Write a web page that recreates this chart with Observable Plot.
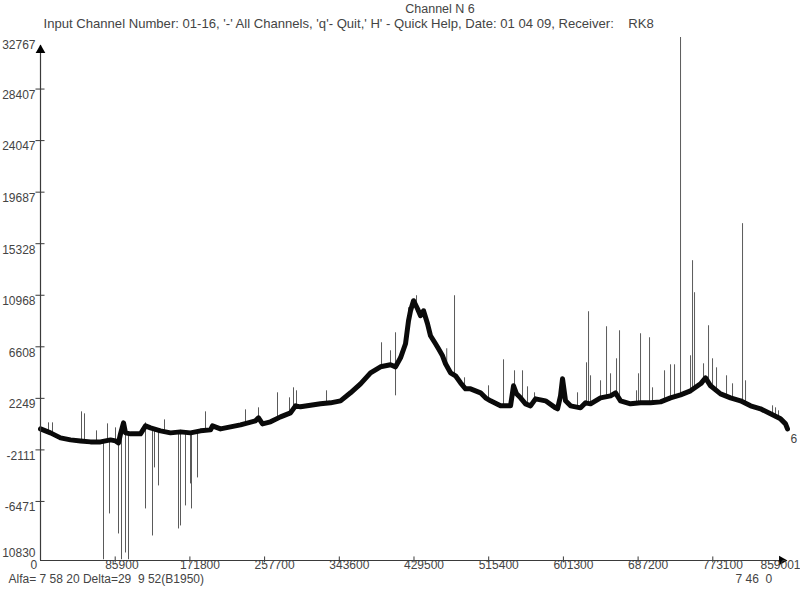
<!DOCTYPE html>
<html>
<head>
<meta charset="utf-8">
<script src="https://cdn.jsdelivr.net/npm/d3@7"></script>
<script src="https://cdn.jsdelivr.net/npm/@observablehq/plot@0.6"></script>
<style>
  html, body { margin: 0; padding: 0; background: #fff; }
  #chart svg text { white-space: pre; }
</style>
</head>
<body>
<div id="chart"></div>
<script>
// ---- Texts ----
const titleText = "Channel N 6";
const subtitleText = "Input Channel Number: 01-16, '-' All Channels, 'q'- Quit,' H' - Quick Help, Date: 01 04 09, Receiver:    RK8";
const footLeftText = "Alfa= 7 58 20 Delta=29  9 52(B1950)";
const footRightText = "7 46  0";
const channelLabel = "6";

// ---- Axis ticks ----
const xTickValues = [0, 85900, 171800, 257700, 343600, 429500, 515400, 601300, 687200, 773100, 859001];
const xTickLabels = ["0", "85900", "171800", "257700", "343600", "429500", "515400", "601300", "687200", "773100", "859001"];
const yTickValues = [32767, 28407, 24047, 19687, 15328, 10968, 6608, 2249, -2111, -6471, -10830];
const yTickLabels = ["32767", "28407", "24047", "19687", "15328", "10968", "6608", "2249", "-2111", "-6471", "10830"];

// ---- Main trace (sample index, counts) ----
const traceX = [0, 11500, 23000, 34500, 46000, 57500, 69000, 80500, 86250, 89700, 92000, 95450, 97750, 103500, 115000, 120750, 126500, 138000, 149500, 161000, 172500, 184000, 195500, 197800, 207000, 230000, 247250, 250700, 255300, 264500, 276000, 287500, 293250, 299000, 322000, 333500, 345000, 356500, 368000, 379500, 391000, 402500, 408250, 414000, 419750, 423200, 425500, 428950, 433550, 437000, 440450, 445050, 448500, 454250, 457700, 462300, 465750, 471500, 477250, 483000, 488750, 494500, 500250, 506000, 511750, 517500, 529000, 540500, 543950, 547400, 552000, 557750, 563500, 569250, 580750, 592250, 594550, 598000, 600300, 603750, 609500, 621000, 626750, 632500, 644000, 655500, 661250, 667000, 678500, 690000, 701500, 713000, 724500, 736000, 747500, 759000, 764750, 770500, 782000, 793500, 805000, 816500, 828000, 839500, 851000, 856750, 859001];
const traceY = [-333, -671, -1094, -1264, -1349, -1433, -1433, -1264, -1349, -1518, -755, 176, -671, -755, -755, -78, -248, -501, -671, -586, -671, -501, -418, -78, -333, 7, 346, 599, 91, 261, 683, 1022, 1615, 1530, 1784, 1869, 2039, 2716, 3477, 4409, 4916, 5086, 4916, 5678, 6864, 8811, 9657, 10504, 9826, 9234, 9657, 8557, 7541, 6864, 6441, 5848, 5170, 4409, 4155, 3562, 3054, 3054, 2885, 2716, 2292, 2039, 1615, 1615, 3308, 2631, 2292, 1784, 1615, 2208, 2039, 1446, 1361, 2462, 3900, 2039, 1615, 1446, 1869, 1784, 2292, 2462, 2716, 2039, 1784, 1869, 1869, 1950, 2292, 2547, 2885, 3477, 3985, 3308, 2631, 2292, 2039, 1615, 1361, 937, 514, 91, -333];

// ---- Spikes (impulse interference): position, base value, tip value ----
const spikeX = [9200, 13800, 47150, 50600, 64400, 77050, 86250, 120750, 142600, 189750, 235750, 250700, 272550, 286350, 290950, 294400, 328900, 392150, 402500, 408250, 423200, 432400, 467150, 476100, 487600, 515200, 532450, 545100, 554300, 560050, 568100, 599150, 617550, 627900, 630200, 632500, 644000, 650900, 655500, 662400, 665850, 685400, 687700, 690000, 700350, 703800, 717600, 724500, 729100, 736000, 747500, 749800, 752100, 762450, 768200, 772800, 777400, 788900, 795800, 807300, 810750, 841800, 845250, 848700,
  72450, 79350, 89700, 93150, 97750, 101200, 120750, 128800, 131100, 135700, 158700, 161000, 166750, 172500, 173650, 180550];
const spikeBase = [-586, -671, -1349, -1349, -1433, -1349, -1349, -333, -586, -501, 7, 346, 599, 1022, 1192, 1530, 1784, 4916, 5086, 2462, 8811, 10081, 5001, 4240, 3139, 2208, 1615, 2885, 2208, 1784, 2039, 2462, 1530, 1869, 1869, 1784, 2292, 2377, 2462, 2631, 2462, 1784, 1869, 1869, 1869, 1869, 2039, 2292, 2377, 2547, 2885, 2970, 2970, 3393, 3562, 3308, 2970, 2547, 2377, 2039, 1869, 852, 768, 599,
  -1433, -1349, -1518, -755, -671, -755, -78, -248, -248, -333, -586, -586, -671, -671, -671, -586];
const spikeTip = [176, 176, 1107, 937, -501, 91, -248, 176, 429, 1107, 1276, 1446, 2716, 2292, 3139, 2885, 2885, 6949, 6271, 7795, 9911, 10927, 6441, 10927, 3985, 3308, 5509, 4578, 4578, 3223, 2716, 3985, 2716, 5255, 9573, 4155, 3732, 8303, 4324, 5593, 7964, 2885, 4324, 7710, 7372, 3139, 4578, 5086, 5086, 32767, 5848, 13890, 11181, 5170, 8388, 5593, 4831, 4155, 3477, 17022, 3732, 1615, 1446, 1192,
  -11400, -7527, -9220, -11400, -10829, -11400, -7103, -9390, -3633, -5157, -8797, -8543, -6849, -4988, -7103, -4480];

// ---- Build tables ----
const trace = traceX.map((x, i) => ({x, y: traceY[i]}));
const spikes = spikeX.map((x, i) => ({x, y1: spikeBase[i], y2: spikeTip[i]}));
const xTicks = xTickValues.map((v, i) => ({v, label: xTickLabels[i]}));
const yTicks = yTickValues.map((v, i) => ({v, label: yTickLabels[i]}));
const yMin = -11465, yMax = 32767, xMin = 0, xMax = 859001;

const ink = "#3a3a3a";
const textFill = "#444";

const chart = Plot.plot({
  width: 800,
  height: 600,
  marginLeft: 40,
  marginRight: 13,
  marginTop: 37,
  marginBottom: 40,
  x: {domain: [xMin, xMax], axis: null},
  y: {domain: [yMin, yMax], axis: null},
  style: {fontFamily: "'Liberation Sans', Arial, sans-serif", fontSize: "12px", background: "#fff", overflow: "visible"},
  marks: [
    // spikes
    Plot.ruleX(spikes, {x: "x", y1: "y1", y2: "y2", stroke: "#5a5a5a", strokeWidth: 1}),
    // main trace
    Plot.line(trace, {x: "x", y: "y", stroke: "#0a0a0a", strokeWidth: 5, strokeLinejoin: "round"}),
    // axes lines
    Plot.ruleX([xMin], {y1: yMin, y2: 32100, stroke: ink, strokeWidth: 1.2}),
    Plot.ruleY([yMin], {x1: xMin, x2: 852000, stroke: ink, strokeWidth: 1.2}),
    Plot.dot([0], {x: xMin, y: 31700, symbol: "triangle", r: 3.6, fill: "#000", stroke: "none"}),
    Plot.dot([0], {x: 852500, y: yMin, symbol: "triangle", r: 3.6, fill: "#000", stroke: "none", rotate: 90}),
    // y ticks
    Plot.ruleY(yTicks.slice(1, 10), {y: "v", x1: -5200, x2: 5200, stroke: ink}),
    // x ticks
    Plot.ruleX(xTicks.slice(1, 10), {x: "v", y1: yMin + 300, y2: yMin - 200, stroke: ink}),
    // y labels
    Plot.text(yTicks.slice(0, 1), {y: "v", text: "label", frameAnchor: "left", textAnchor: "end", dx: -5, dy: 8, fill: textFill}),
    Plot.text(yTicks.slice(1, 10), {y: "v", text: "label", frameAnchor: "left", textAnchor: "end", dx: -5, dy: 6, fill: textFill}),
    Plot.text(yTicks.slice(10), {y: "v", text: "label", frameAnchor: "left", textAnchor: "end", dx: -5, dy: 0, fill: textFill}),
    // x labels
    Plot.text(xTicks.slice(0, 10), {x: "v", text: "label", frameAnchor: "bottom", textAnchor: "start", dx: -10, dy: 5, lineAnchor: "middle", fill: textFill}),
    Plot.text(xTicks.slice(10), {x: "v", text: "label", frameAnchor: "bottom", textAnchor: "end", dx: 13, dy: 5, lineAnchor: "middle", fill: textFill}),
    // channel label at the end of trace
    Plot.text(trace.slice(-1), {x: "x", y: "y", text: () => channelLabel, textAnchor: "start", dx: 3, dy: 10, fill: textFill}),
    // title, subtitle, footers
    Plot.text([titleText], {frameAnchor: "top", text: d => d, lineAnchor: "middle", dx: 26, dy: -29, fontSize: 12.5, fill: textFill}),
    Plot.text([subtitleText], {frameAnchor: "top-left", text: d => d, textAnchor: "start", lineAnchor: "middle", dx: 3, dy: -14, fontSize: 13.1, fill: textFill}),
    Plot.text([footLeftText], {frameAnchor: "bottom-left", text: d => d, textAnchor: "start", lineAnchor: "middle", dx: -32, dy: 18.5, fill: textFill}),
    Plot.text([footRightText], {frameAnchor: "bottom-right", text: d => d, textAnchor: "start", lineAnchor: "middle", dx: -52, dy: 18.5, fill: textFill})
  ]
});
document.getElementById("chart").appendChild(chart);
</script>
</body>
</html>
